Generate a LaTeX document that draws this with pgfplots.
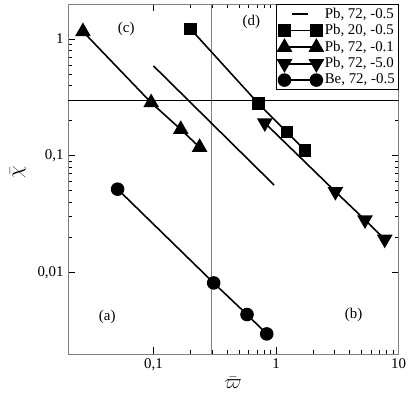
\documentclass[border=0pt]{standalone}
\usepackage{fontspec}
\setmainfont{Liberation Serif}
\usepackage{pgfplots}
\pgfplotsset{compat=1.18}
\pgfplotsset{
	ends-legend/.style={
		legend image code/.code={%
			\draw[mark repeat=2,mark phase=1] plot coordinates {(0bp,0bp) (16bp,0bp) (32bp,0bp)};
		}
	},
	short-legend/.style={
		legend image code/.code={%
			\draw (8bp,0bp) -- (24bp,0bp);
		}
	}
}
\begin{document}
\fontsize{15}{18}\selectfont
\begin{tikzpicture}
\begin{loglogaxis}[
	name=ax,
	scale only axis,
	width=332bp, height=351bp,
	xmin=0.02, xmax=10,
	ymin=0.002, ymax=2,
	xtick={0.1,1,10}, xticklabels={{0,1},{1},{10}},
	ytick={0.01,0.1,1}, yticklabels={{0,01},{0,1},{1}},
	tick align=inside,
	major tick length=7bp, minor tick length=4bp,
	axis line style={gray},
	every tick/.style={black, line width=0.8bp},
	tick label style={font=\fontsize{15}{18}\selectfont},
	yticklabel style={xshift=1bp},
	/pgf/number format/assume math mode=true,
	legend cell align=left,
	legend style={at={(rel axis cs:1,1)}, anchor=north east, draw=black,
		line width=0.8bp, fill=white, inner sep=1.5bp, row sep=0bp,
		font=\fontsize{15}{17}\selectfont},
]
% reference lines
\draw[gray, line width=0.9bp] (axis cs:0.3,0.002) -- (axis cs:0.3,2);
\draw[black, line width=0.6bp] (axis cs:0.02,0.3) -- (axis cs:10,0.3);

\addplot[black, line width=1.6bp, short-legend] coordinates {
(0.1,0.589) (0.964,0.056)
};
\addlegendentry{Pb, 72, -0.5}

\addplot[black, line width=1.6bp, mark=square*, mark size=5.5bp, mark options={solid}, ends-legend] coordinates {
(0.201,1.22) (0.716,0.281) (1.23,0.159) (1.73,0.111)
};
\addlegendentry{Pb, 20, -0.5}

\addplot[black, line width=1.6bp, mark=triangle*, mark size=7.5bp, mark options={solid}, ends-legend] coordinates {
(0.0266,1.16) (0.0958,0.285) (0.167,0.168) (0.238,0.118)
};
\addlegendentry{Pb, 72, -0.1}

\addplot[black, line width=1.6bp, mark=triangle*, mark size=7.5bp, mark options={solid, rotate=180}, ends-legend] coordinates {
(0.81,0.191) (3.05,0.0492) (5.32,0.0281) (7.71,0.0192)
};
\addlegendentry{Pb, 72, -5.0}

\addplot[black, line width=1.6bp, mark=*, mark size=6bp, mark options={solid}, ends-legend] coordinates {
(0.051,0.0516) (0.31,0.0081) (0.58,0.00434) (0.84,0.00296)
};
\addlegendentry{Be, 72, -0.5}

\node at (axis cs:0.042,0.0041) {(a)};
\node at (axis cs:4.3,0.0043) {(b)};
\node at (axis cs:0.060,1.22) {(c)};
\node at (axis cs:0.63,1.39) {(d)};
\end{loglogaxis}
% axis labels and fixed frame of the picture
\node[rotate=90, font=\fontsize{21}{24}\selectfont] at ([xshift=-50bp,yshift=7bp]ax.west) {$\bar{\chi}$};
\node[font=\fontsize{21}{24}\selectfont] at ([yshift=-29bp]ax.south) {$\bar{\varpi}$};
\path ([xshift=-68bp,yshift=-41bp]ax.south west) rectangle ([xshift=11bp,yshift=4bp]ax.north east);
\end{tikzpicture}
\end{document}
